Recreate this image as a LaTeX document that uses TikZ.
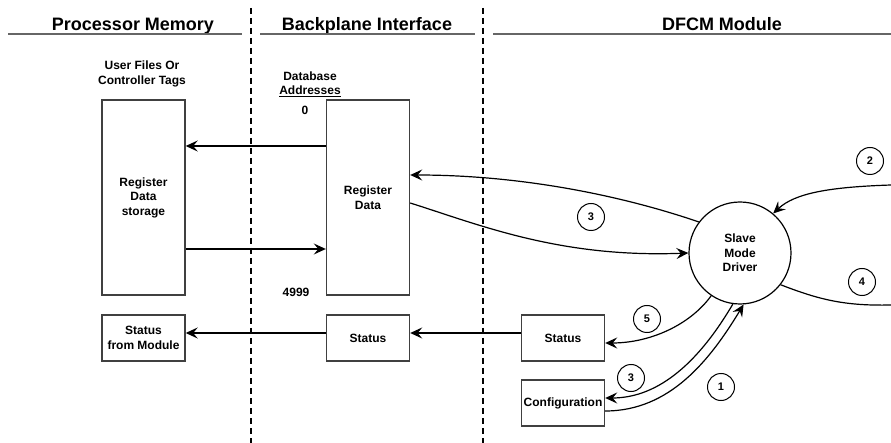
\documentclass[tikz,border=0pt]{standalone}
\usepackage{fontspec}
\setmainfont{Liberation Sans}
\usetikzlibrary{arrows.meta, positioning, calc}

\begin{document}
\begin{tikzpicture}[
    x=1pt, y=-1pt,
    font=\fontsize{12}{14.5}\selectfont\bfseries,
    cell/.style={draw=black!75, line width=1.4pt, minimum width=83pt,
                 align=center, inner sep=1pt},
    heading/.style={anchor=base, font=\fontsize{18}{20}\selectfont\bfseries},
    headrule/.style={black!60, line width=1.8pt},
    divider/.style={line width=1.5pt, dash pattern=on 6pt off 4pt},
    numtag/.style={draw, circle, minimum size=27pt, inner sep=0pt,
                   line width=1pt, font=\fontsize{11}{13}\selectfont\bfseries},
    flow/.style={-{Stealth[length=12pt, width=11pt, inset=4.5pt]}, line width=1.2pt}
  ]
    \useasboundingbox (0,0) rectangle (891,443);
    % column headings
    \node[heading] (hpm) at (133,31) {Processor Memory};
    \node[heading] (hbi) at (367,31) {Backplane Interface};
    \node[heading] (hdm) at (722,31) {DFCM Module};
    \draw[headrule] (8,34) -- (242,34);
    \draw[headrule] (260,34) -- (475,34);
    \draw[headrule] (493,34) -- (891,34);
    \draw[divider] (251,8) -- (251,443);
    \draw[divider] (483,8) -- (483,443);
    % processor memory
    \node[align=center] (ufiles) at (142,74) {User Files Or\\Controller Tags};
    \node[cell, minimum height=195pt] (store) at (143.5,197.5)
      {Register\\Data\\storage};
    \node[cell, minimum height=46pt] (modstat) at (143.5,338)
      {Status\\from Module};
    % backplane interface
    \node[align=center] (dbaddr) at (310,84) {Database\\\underline{Addresses}};
    \node (a0) at (305,110) {0};
    \node (a4999) at (296,292) {4999};
    \node[cell, minimum height=195pt] (regdata) at (368,197.5)
      {Register\\Data};
    \node[cell, minimum height=46pt] (bpstat) at (368,338) {Status};
    % module
    \node[cell, minimum height=46pt] (dfstat) at (563,338) {Status};
    \node[cell, minimum height=46pt] (config) at (563,403) {Configuration};
    \node[draw, circle, minimum size=102pt, inner sep=0pt, line width=1.2pt,
          align=center] (driver) at (740,253) {Slave\\Mode\\Driver};
    \coordinate (port2) at (891,185);
    \coordinate (port4) at (891,305);
    \node[numtag] (n1) at (721,387) {1};
    \node[numtag] (n2) at (870,161) {2};
    \node[numtag] (n3a) at (591,217) {3};
    \node[numtag] (n3b) at (631,378) {3};
    \node[numtag] (n4) at (862,282) {4};
    \node[numtag] (n5) at (647,319) {5};
    % straight transfers
    \draw[flow] (regdata.west |- 0,146) -- (store.east |- 0,146);
    \draw[flow] (store.east |- 0,249) -- (regdata.west |- 0,249);
    \draw[flow] (bpstat.west |- 0,333) -- (modstat.east |- 0,333);
    \draw[flow] (dfstat.west |- 0,333) -- (bpstat.east |- 0,333);
    % driver paths
    \draw[flow] (driver.143) .. controls (620,195) and (520,175)
      .. (regdata.east |- 0,175);
    \draw[flow] (regdata.east |- 0,203) .. controls (480,225) and (560,258)
      .. (driver.west);
    \draw[flow] (port2) .. controls (830,187) and (795,193) .. (driver.50);
    \draw[line width=1.2pt] (driver.-38) .. controls (820,300) and (845,306)
      .. (port4);
    \draw[flow] (driver.236) .. controls (690,325) and (650,343)
      .. (dfstat.east |- 0,343);
    \draw[flow] (driver.262) .. controls (700,360) and (660,398)
      .. (config.east |- 0,398);
    \draw[flow] (config.east |- 0,411) .. controls (670,411) and (710,360)
      .. (driver.274);
\end{tikzpicture}
\end{document}
